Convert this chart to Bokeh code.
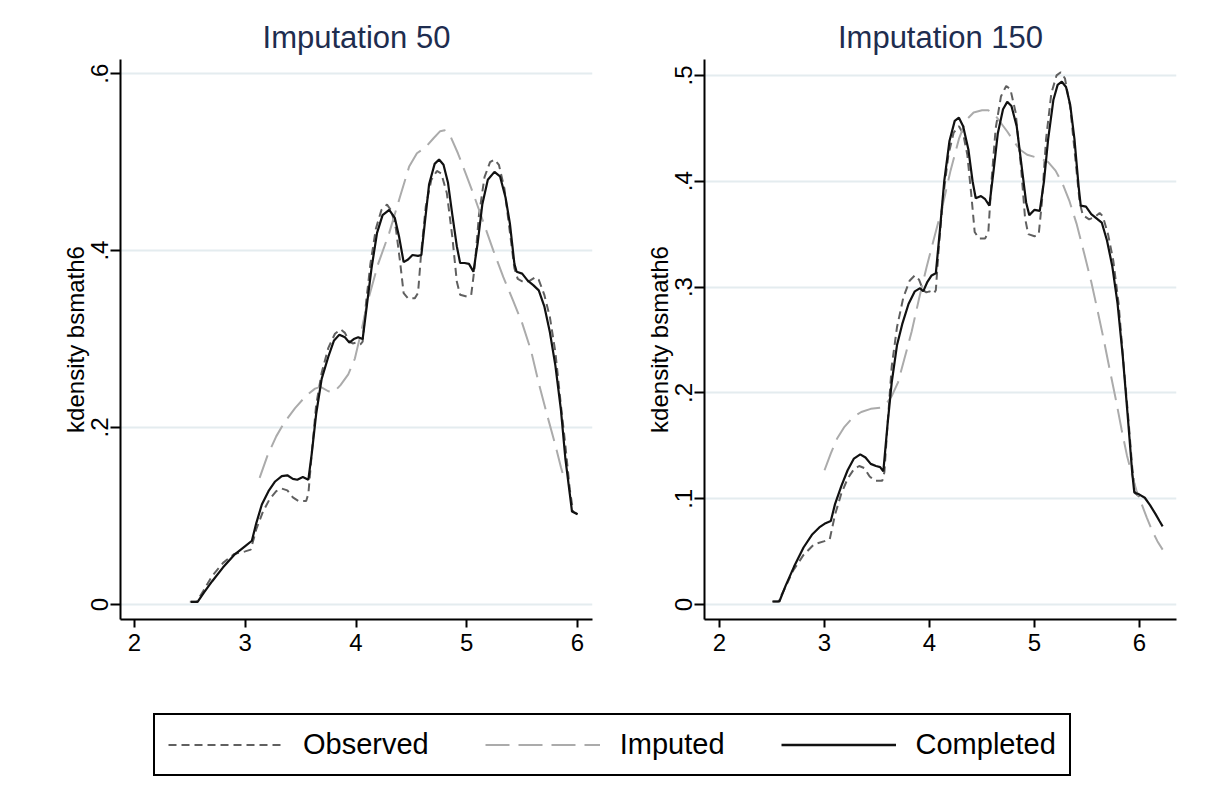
from bokeh.plotting import figure
from bokeh.layouts import column, row
from bokeh.models import Range1d, FixedTicker, Legend, LegendItem
from bokeh.embed import file_html
from bokeh.resources import INLINE

# ---------------- data ----------------
# Observed data (identical in both panels)
obs_x = [2.50, 2.56, 2.62, 2.70, 2.80, 2.90, 3.00, 3.05, 3.10, 3.16, 3.22, 3.28, 3.33, 3.38,
         3.43, 3.48, 3.55, 3.57, 3.60, 3.64, 3.69, 3.75, 3.81, 3.86, 3.90, 3.94, 3.97, 4.00,
         4.04, 4.06, 4.09, 4.13, 4.18, 4.23, 4.28, 4.32, 4.36, 4.40, 4.43, 4.47, 4.53, 4.56,
         4.59, 4.63, 4.68, 4.73, 4.77, 4.82, 4.87, 4.91, 4.94, 5.00, 5.04, 5.07, 5.11, 5.16,
         5.21, 5.25, 5.29, 5.34, 5.39, 5.43, 5.46, 5.52, 5.57, 5.62, 5.65, 5.70, 5.75, 5.80,
         5.85, 5.89, 5.93, 5.96, 6.00]
obs_y = [0.003, 0.003, 0.015, 0.032, 0.047, 0.057, 0.060, 0.062, 0.085, 0.105, 0.119, 0.128, 0.131, 0.129,
         0.121, 0.117, 0.117, 0.125, 0.170, 0.225, 0.262, 0.290, 0.306, 0.311, 0.307, 0.297, 0.295, 0.296,
         0.294, 0.297, 0.340, 0.385, 0.425, 0.446, 0.452, 0.445, 0.425, 0.385, 0.352, 0.346, 0.346, 0.352,
         0.400, 0.450, 0.480, 0.490, 0.487, 0.465, 0.415, 0.365, 0.350, 0.348, 0.350, 0.380, 0.440, 0.483,
         0.500, 0.503, 0.497, 0.470, 0.420, 0.380, 0.368, 0.364, 0.366, 0.370, 0.367, 0.350, 0.325, 0.285,
         0.225, 0.180, 0.130, 0.105, 0.102]

# Imputation 50
imp50_x = [3.13, 3.20, 3.28, 3.35, 3.45, 3.55, 3.63, 3.68, 3.75, 3.80, 3.86, 3.93, 3.99, 4.05,
           4.10, 4.20, 4.30, 4.40, 4.48, 4.55, 4.63, 4.70, 4.76, 4.80, 4.85, 4.92, 5.00, 5.06,
           5.15, 5.24, 5.33, 5.42, 5.50, 5.58, 5.65, 5.73, 5.80, 5.85, 5.88]
imp50_y = [0.143, 0.168, 0.190, 0.205, 0.222, 0.236, 0.244, 0.246, 0.241, 0.240, 0.248, 0.260, 0.278, 0.310,
           0.340, 0.385, 0.420, 0.462, 0.495, 0.510, 0.517, 0.527, 0.535, 0.536, 0.530, 0.510, 0.484, 0.464,
           0.432, 0.400, 0.370, 0.343, 0.318, 0.287, 0.250, 0.212, 0.180, 0.155, 0.142]

comp50_x = [2.51, 2.57, 2.63, 2.70, 2.80, 2.90, 3.00, 3.06, 3.10, 3.15, 3.21, 3.27, 3.33, 3.38,
            3.43, 3.47, 3.52, 3.57, 3.60, 3.64, 3.69, 3.75, 3.80, 3.85, 3.90, 3.94, 3.98, 4.02,
            4.06, 4.10, 4.14, 4.19, 4.24, 4.30, 4.35, 4.39, 4.43, 4.47, 4.51, 4.56, 4.59, 4.62,
            4.66, 4.71, 4.75, 4.79, 4.83, 4.87, 4.91, 4.94, 4.98, 5.02, 5.06, 5.10, 5.14, 5.19,
            5.25, 5.30, 5.35, 5.39, 5.43, 5.45, 5.50, 5.55, 5.60, 5.65, 5.70, 5.75, 5.80, 5.85,
            5.89, 5.93, 5.95, 6.00]
comp50_y = [0.003, 0.003, 0.014, 0.026, 0.042, 0.056, 0.066, 0.072, 0.092, 0.113, 0.128, 0.139, 0.145, 0.146,
            0.142, 0.141, 0.144, 0.141, 0.170, 0.215, 0.255, 0.280, 0.298, 0.305, 0.302, 0.296, 0.300, 0.302,
            0.300, 0.340, 0.380, 0.420, 0.440, 0.446, 0.437, 0.415, 0.387, 0.390, 0.395, 0.394, 0.395, 0.430,
            0.475, 0.498, 0.503, 0.497, 0.477, 0.440, 0.405, 0.386, 0.386, 0.385, 0.376, 0.410, 0.452, 0.480,
            0.489, 0.484, 0.460, 0.430, 0.385, 0.376, 0.374, 0.366, 0.361, 0.355, 0.337, 0.308, 0.270, 0.220,
            0.165, 0.125, 0.105, 0.102]

# Imputation 150
imp150_x = [3.00, 3.06, 3.12, 3.19, 3.27, 3.35, 3.44, 3.53, 3.59, 3.64, 3.70, 3.76, 3.83, 3.90,
            3.97, 4.04, 4.12, 4.20, 4.28, 4.35, 4.42, 4.50, 4.56, 4.62, 4.68, 4.74, 4.80, 4.86,
            4.93, 5.00, 5.07, 5.13, 5.20, 5.27, 5.33, 5.40, 5.47, 5.54, 5.60, 5.66, 5.72, 5.77,
            5.83, 5.88, 5.93, 5.97, 6.02, 6.07, 6.12, 6.17, 6.22]
imp150_y = [0.127, 0.143, 0.157, 0.168, 0.177, 0.182, 0.185, 0.186, 0.190, 0.197, 0.210, 0.232, 0.258, 0.289,
            0.318, 0.345, 0.375, 0.410, 0.440, 0.458, 0.465, 0.467, 0.467, 0.463, 0.455, 0.447, 0.438, 0.430,
            0.425, 0.423, 0.421, 0.418, 0.410, 0.397, 0.382, 0.360, 0.333, 0.305, 0.278, 0.250, 0.220, 0.196,
            0.165, 0.141, 0.122, 0.108, 0.095, 0.082, 0.070, 0.060, 0.052]

comp150_x = [2.51, 2.57, 2.63, 2.71, 2.80, 2.88, 2.95, 3.01, 3.06, 3.10, 3.16, 3.22, 3.28, 3.34,
             3.39, 3.44, 3.49, 3.53, 3.56, 3.60, 3.64, 3.69, 3.74, 3.80, 3.86, 3.91, 3.94, 3.98,
             4.02, 4.06, 4.10, 4.14, 4.19, 4.24, 4.28, 4.32, 4.37, 4.41, 4.44, 4.49, 4.53, 4.57,
             4.61, 4.65, 4.70, 4.74, 4.78, 4.83, 4.88, 4.92, 4.95, 5.00, 5.05, 5.09, 5.13, 5.18,
             5.22, 5.26, 5.30, 5.34, 5.38, 5.42, 5.44, 5.49, 5.54, 5.59, 5.64, 5.69, 5.74, 5.79,
             5.84, 5.89, 5.93, 5.95, 6.00, 6.05, 6.10, 6.15, 6.19, 6.22]
comp150_y = [0.003, 0.003, 0.018, 0.036, 0.054, 0.066, 0.073, 0.077, 0.079, 0.095, 0.112, 0.127, 0.138, 0.142,
             0.139, 0.133, 0.131, 0.130, 0.126, 0.170, 0.210, 0.245, 0.265, 0.284, 0.296, 0.299, 0.296, 0.305,
             0.311, 0.313, 0.355, 0.400, 0.438, 0.457, 0.460, 0.452, 0.430, 0.400, 0.384, 0.386, 0.383, 0.377,
             0.410, 0.445, 0.468, 0.475, 0.471, 0.452, 0.412, 0.380, 0.368, 0.373, 0.372, 0.400, 0.440, 0.477,
             0.491, 0.494, 0.489, 0.472, 0.440, 0.395, 0.377, 0.376, 0.369, 0.365, 0.361, 0.344, 0.320, 0.285,
             0.235, 0.175, 0.125, 0.106, 0.104, 0.101, 0.094, 0.086, 0.079, 0.074]

x_ticks = [2, 3, 4, 5, 6]
y_ticks_50 = [0, 0.2, 0.4, 0.6]
y_labels_50 = ["0", ".2", ".4", ".6"]
y_ticks_150 = [0, 0.1, 0.2, 0.3, 0.4, 0.5]
y_labels_150 = ["0", ".1", ".2", ".3", ".4", ".5"]
titles = ["Imputation 50", "Imputation 150"]
y_title = "kdensity bsmath6"
series_names = ["Observed", "Imputed", "Completed"]

# ---------------- styles ----------------
FONT = "Liberation Sans"
OBS = dict(line_color="#606060", line_width=2, line_dash="8 5")
IMP = dict(line_color="#ababab", line_width=2, line_dash="24 9")
COMP = dict(line_color="#111111", line_width=2.2)


def panel(title, xr, yr, yt, yl, left_border, right_border, imp_x, imp_y, comp_x, comp_y):
    p = figure(frame_width=472, frame_height=560, x_range=Range1d(*xr), y_range=Range1d(*yr),
               output_backend="svg", toolbar_location=None,
               min_border_left=left_border, min_border_right=right_border,
               min_border_top=59, min_border_bottom=71)
    p.outline_line_color = None
    p.background_fill_color = "white"
    p.border_fill_color = "white"
    p.title.text = title
    p.title.align = "center"
    p.title.text_font = FONT
    p.title.text_font_size = "31px"
    p.title.text_font_style = "normal"
    p.title.text_color = "#1e2d4f"
    p.title.standoff = 9

    p.xgrid.visible = False
    p.ygrid.grid_line_color = "#e4ecef"
    p.ygrid.grid_line_width = 2
    p.ygrid.ticker = FixedTicker(ticks=yt)

    xa = p.xaxis[0]
    xa.ticker = FixedTicker(ticks=x_ticks)
    xa.axis_line_width = 2
    xa.axis_line_color = "black"
    xa.major_tick_line_width = 2
    xa.major_tick_out = 8
    xa.major_tick_in = 0
    xa.minor_tick_line_color = None
    xa.major_label_text_font = FONT
    xa.major_label_text_font_size = "24px"
    xa.major_label_text_color = "black"
    xa.major_label_standoff = 6

    ya = p.yaxis[0]
    ya.ticker = FixedTicker(ticks=yt)
    ya.major_label_overrides = {t: l for t, l in zip(yt, yl)}
    ya.major_label_orientation = "vertical"
    ya.axis_line_width = 2
    ya.axis_line_color = "black"
    ya.major_tick_line_width = 2
    ya.major_tick_out = 10
    ya.major_tick_in = 0
    ya.minor_tick_line_color = None
    ya.major_label_text_font = FONT
    ya.major_label_text_font_size = "24px"
    ya.major_label_text_color = "black"
    ya.major_label_standoff = 2
    ya.axis_label = y_title
    ya.axis_label_text_font = FONT
    ya.axis_label_text_font_size = "24px"
    ya.axis_label_text_font_style = "normal"
    ya.axis_label_text_color = "black"
    ya.axis_label_standoff = 0

    p.line(obs_x, obs_y, **OBS)
    p.line(imp_x, imp_y, **IMP)
    p.line(comp_x, comp_y, **COMP)
    return p


p1 = panel(titles[0], (1.874, 6.135), (-0.017, 0.616), y_ticks_50, y_labels_50, 120, 16,
           imp50_x, imp50_y, comp50_x, comp50_y)
p2 = panel(titles[1], (1.857, 6.352), (-0.014, 0.515), y_ticks_150, y_labels_150, 96, 32,
           imp150_x, imp150_y, comp150_x, comp150_y)

# ---------------- legend strip ----------------
# the legend strip reuses the observed series, kept outside its visible range,
# so that only the legend glyphs show
pl = figure(width=1208, height=100, x_range=Range1d(100, 101), y_range=Range1d(100, 101),
            output_backend="svg", toolbar_location=None,
            x_axis_location=None, y_axis_location=None,
            min_border=0)
pl.outline_line_color = None
pl.grid.visible = False
r_obs = pl.line(obs_x, obs_y, **OBS)
r_imp = pl.line(obs_x, obs_y, **IMP)
r_comp = pl.line(obs_x, obs_y, line_color="#111111", line_width=2.6)
leg = Legend(items=[LegendItem(label=series_names[0], renderers=[r_obs]),
                    LegendItem(label=series_names[1], renderers=[r_imp]),
                    LegendItem(label=series_names[2], renderers=[r_comp])],
             orientation="horizontal", location=(153, 14),
             border_line_color="black", border_line_width=2, border_line_alpha=1,
             background_fill_color="white", background_fill_alpha=1,
             label_text_font=FONT, label_text_font_size="29px", label_text_color="black",
             glyph_width=115, glyph_height=29, label_height=29,
             label_standoff=20, spacing=56, padding=13, margin=0)
pl.add_layout(leg, "center")

layout = column(row(p1, p2, spacing=0), pl, spacing=0)
open("out.html", "w").write(file_html(layout, INLINE))
